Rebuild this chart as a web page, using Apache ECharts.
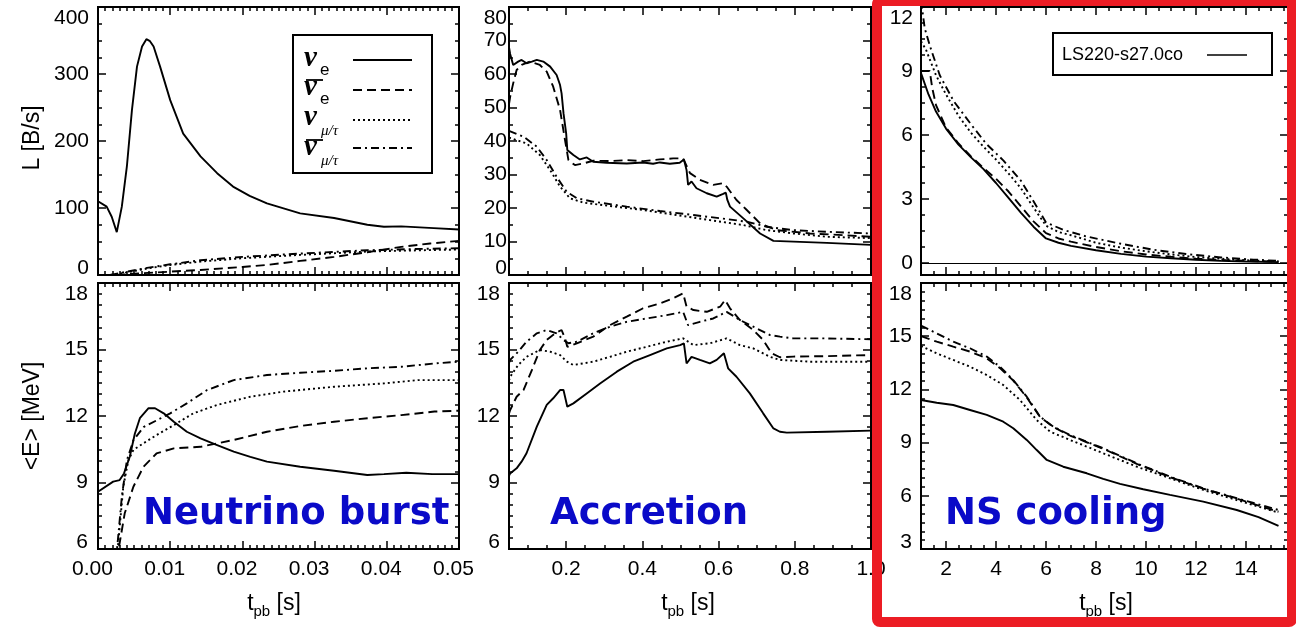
<!DOCTYPE html>
<html>
<head>
<meta charset="utf-8">
<script src="https://cdn.jsdelivr.net/npm/echarts@6/dist/echarts.min.js"></script>
<style>
  html, body { margin: 0; padding: 0; background: #fff; }
  #chart { width: 1296px; height: 630px; }
</style>
</head>
<body>
<div id="chart"></div>
<script>
// ---------------- data: [t_pb, value] ----------------
// Neutrino burst: luminosity L [B/s]
const burstLumNuE = [[0,110],[0.0012,102],[0.0019,87],[0.0026,64],[0.0033,102],[0.004,162],[0.0047,246],[0.0054,311],[0.0061,341],[0.0067,352],[0.0072,349],[0.0077,341],[0.0086,311],[0.01,261],[0.0118,211],[0.0142,177],[0.0165,152],[0.0187,132],[0.021,118],[0.0234,107],[0.028,92],[0.0327,85],[0.0373,75],[0.0396,72],[0.042,72.5],[0.0465,70],[0.05,68]];
const burstLumNuEBar = [[0.0025,0],[0.005,2],[0.01,5],[0.0142,7.5],[0.02,12],[0.0234,15],[0.028,21],[0.0327,27],[0.0373,34],[0.042,42],[0.046,47],[0.05,51]];
const burstLumNuX = [[0.0017,0],[0.004,4],[0.007,10],[0.01,15],[0.0142,20],[0.02,25],[0.028,30],[0.0373,35],[0.045,37],[0.05,38]];
const burstLumNuXBar = [[0.0017,0],[0.004,5],[0.007,11],[0.01,16],[0.0142,22],[0.02,27],[0.028,32],[0.0373,37],[0.045,39],[0.05,40]];
// Neutrino burst: mean energy <E> [MeV]
const burstEnNuE = [[0,8.58],[0.0021,9.04],[0.003,9.11],[0.0036,9.41],[0.0044,10.16],[0.0051,11.2],[0.0058,11.9],[0.007,12.35],[0.0079,12.35],[0.0091,12.12],[0.0105,11.74],[0.0123,11.29],[0.0142,10.99],[0.0165,10.69],[0.0188,10.39],[0.0211,10.16],[0.0234,9.94],[0.028,9.71],[0.0327,9.53],[0.0373,9.34],[0.0396,9.38],[0.0427,9.44],[0.0463,9.38],[0.05,9.38]];
const burstEnNuEBar = [[0.0026,5.5],[0.0037,7.61],[0.0049,8.81],[0.0063,9.71],[0.0081,10.31],[0.0105,10.54],[0.0142,10.61],[0.0188,10.92],[0.0234,11.29],[0.028,11.55],[0.0327,11.74],[0.0373,11.9],[0.042,12.04],[0.0466,12.2],[0.05,12.24]];
const burstEnNuX = [[0.0026,5.5],[0.0035,8.81],[0.0042,10.0],[0.0049,10.47],[0.0063,10.77],[0.0081,11.14],[0.0105,11.59],[0.0132,12.12],[0.0165,12.5],[0.0211,12.87],[0.0257,13.1],[0.0327,13.32],[0.0396,13.47],[0.0443,13.62],[0.05,13.62]];
const burstEnNuXBar = [[0.0025,5.5],[0.0033,8.36],[0.004,10.0],[0.0049,10.9],[0.0063,11.5],[0.0081,11.8],[0.01,12.12],[0.0123,12.57],[0.0151,13.17],[0.0188,13.62],[0.0234,13.85],[0.028,13.95],[0.0327,14.04],[0.0373,14.15],[0.042,14.22],[0.0466,14.37],[0.05,14.45]];

// Accretion: luminosity L [B/s]
const accrLumNuE = [[0.05,68],[0.053,66],[0.061,62.7],[0.074,63.7],[0.083,64.2],[0.096,63.2],[0.11,63.7],[0.123,64.2],[0.14,63.7],[0.158,62.2],[0.175,59.7],[0.184,56.7],[0.188,54.2],[0.193,48.3],[0.2,42.3],[0.203,37.3],[0.219,35.8],[0.236,34.5],[0.254,35.1],[0.271,33.8],[0.306,33.5],[0.359,33.3],[0.402,33.6],[0.428,33.2],[0.446,33.6],[0.472,33.2],[0.498,33.5],[0.509,34.5],[0.516,31.3],[0.52,26.9],[0.529,27.9],[0.542,25.9],[0.569,24.4],[0.595,23.4],[0.612,24.2],[0.619,24.6],[0.623,22.4],[0.63,20.4],[0.665,16.9],[0.709,12.4],[0.744,10.2],[0.884,9.6],[1.0,9.0]];
const accrLumNuEBar = [[0.05,51],[0.053,53.2],[0.061,57.2],[0.07,61.2],[0.083,62.7],[0.105,63.7],[0.131,62.7],[0.149,60.7],[0.166,56.2],[0.184,49.3],[0.197,40.3],[0.206,34.3],[0.223,32.8],[0.245,33.3],[0.271,34.1],[0.315,34.0],[0.359,34.3],[0.402,34.0],[0.446,34.5],[0.481,34.8],[0.507,34.8],[0.525,30.4],[0.551,28.4],[0.586,26.9],[0.612,27.4],[0.621,26.4],[0.647,22.4],[0.674,19.4],[0.709,15.4],[0.752,13.4],[0.84,12.4],[0.927,11.9],[1.0,11.4]];
const accrLumNuX = [[0.05,41],[0.053,40.8],[0.096,39.3],[0.131,35.8],[0.158,31.3],[0.184,26.4],[0.21,22.9],[0.245,21.6],[0.315,20.6],[0.402,19.4],[0.49,17.9],[0.577,16.4],[0.665,14.9],[0.726,13.4],[0.796,12.4],[0.884,11.4],[1.0,11.0]];
const accrLumNuXBar = [[0.05,43],[0.053,42.8],[0.088,41.3],[0.123,38.3],[0.149,34.3],[0.175,29.3],[0.201,24.9],[0.228,22.9],[0.271,21.9],[0.359,20.4],[0.446,19.1],[0.534,17.9],[0.621,16.7],[0.674,15.9],[0.726,14.4],[0.796,13.4],[0.884,12.9],[1.0,12.4]];
// Accretion: mean energy <E> [MeV]
const accrEnNuE = [[0.05,9.3],[0.053,9.41],[0.07,9.64],[0.083,9.94],[0.096,10.32],[0.123,11.52],[0.149,12.5],[0.166,12.8],[0.184,13.17],[0.193,13.17],[0.203,12.42],[0.219,12.57],[0.254,13.02],[0.289,13.47],[0.333,14.0],[0.376,14.45],[0.42,14.75],[0.464,15.05],[0.499,15.2],[0.509,15.28],[0.516,14.37],[0.529,14.67],[0.551,14.53],[0.577,14.37],[0.595,14.53],[0.614,14.83],[0.625,14.15],[0.647,13.77],[0.682,13.02],[0.717,12.12],[0.744,11.44],[0.761,11.29],[0.779,11.25],[0.884,11.29],[1.0,11.34]];
const accrEnNuEBar = [[0.05,12.1],[0.053,12.27],[0.07,12.87],[0.088,13.17],[0.11,14.07],[0.131,14.98],[0.149,15.43],[0.171,15.73],[0.188,15.88],[0.197,15.5],[0.203,15.12],[0.228,15.28],[0.271,15.58],[0.315,16.1],[0.359,16.48],[0.402,16.86],[0.446,17.08],[0.481,17.31],[0.507,17.53],[0.516,16.93],[0.534,16.78],[0.569,16.7],[0.604,16.93],[0.617,17.23],[0.63,16.86],[0.656,16.33],[0.691,15.88],[0.717,15.43],[0.739,14.83],[0.761,14.65],[0.796,14.68],[0.884,14.7],[1.0,14.75]];
const accrEnNuX = [[0.05,13.6],[0.053,13.77],[0.074,14.3],[0.096,14.67],[0.131,14.98],[0.158,14.9],[0.184,14.75],[0.202,14.45],[0.219,14.3],[0.271,14.45],[0.315,14.67],[0.359,14.9],[0.411,15.12],[0.464,15.35],[0.507,15.5],[0.534,15.2],[0.577,15.28],[0.621,15.5],[0.656,15.2],[0.691,15.05],[0.735,14.67],[0.761,14.53],[0.84,14.45],[1.0,14.45]];
const accrEnNuXBar = [[0.05,14.4],[0.053,14.53],[0.074,14.9],[0.096,15.35],[0.123,15.73],[0.149,15.88],[0.175,15.73],[0.193,15.43],[0.206,15.28],[0.228,15.35],[0.271,15.73],[0.315,16.03],[0.359,16.25],[0.411,16.4],[0.464,16.55],[0.507,16.7],[0.52,16.1],[0.551,16.25],[0.586,16.4],[0.621,16.7],[0.656,16.33],[0.691,16.03],[0.735,15.65],[0.761,15.58],[0.796,15.5],[0.884,15.5],[1.0,15.46]];

// NS cooling: luminosity L [B/s]
const coolLumNuE = [[1.0,8.9],[1.3,7.9],[1.6,7.1],[2.0,6.3],[2.5,5.55],[3.0,4.95],[3.5,4.4],[4.0,3.75],[4.5,3.05],[5.0,2.35],[5.5,1.7],[6.0,1.15],[6.5,0.95],[7.0,0.8],[8.0,0.6],[9.0,0.43],[10.0,0.3],[11.0,0.22],[12.0,0.15],[13.0,0.1],[14.0,0.07],[15.3,0.04]];
const coolLumNuEBar = [[1.0,9.0],[1.35,9.0],[1.45,8.2],[1.6,7.4],[2.0,6.35],[2.5,5.6],[3.0,5.0],[3.5,4.45],[4.0,3.95],[4.5,3.35],[5.0,2.65],[5.5,1.95],[6.0,1.4],[6.5,1.15],[7.0,1.0],[8.0,0.75],[9.0,0.55],[10.0,0.4],[11.0,0.29],[12.0,0.2],[13.0,0.14],[14.0,0.1],[15.3,0.06]];
const coolLumNuX = [[1.0,10.4],[1.2,10.0],[1.6,8.8],[2.0,7.9],[2.5,6.9],[3.0,6.1],[3.5,5.45],[4.0,4.85],[4.5,4.2],[5.0,3.5],[5.5,2.6],[6.0,1.75],[6.5,1.45],[7.0,1.3],[8.0,0.95],[9.0,0.72],[10.0,0.55],[11.0,0.4],[12.0,0.28],[13.0,0.2],[14.0,0.13],[15.3,0.08]];
const coolLumNuXBar = [[1.0,12.3],[1.15,11.0],[1.35,10.2],[1.75,8.8],[2.3,7.6],[3.0,6.5],[3.6,5.6],[4.3,4.8],[5.0,3.85],[5.6,2.7],[6.0,1.9],[6.7,1.55],[7.6,1.25],[9.0,0.9],[10.3,0.62],[11.6,0.42],[13.0,0.26],[14.3,0.16],[15.3,0.1]];
// NS cooling: mean energy <E> [MeV]
const coolEnNuE = [[1.0,11.4],[1.63,11.25],[2.29,11.12],[2.96,10.84],[3.63,10.56],[4.29,10.18],[4.69,9.81],[5.23,9.15],[5.63,8.58],[6.03,8.02],[6.69,7.64],[7.63,7.27],[8.29,6.95],[8.96,6.67],[9.89,6.37],[10.96,6.05],[12.29,5.67],[13.63,5.2],[14.5,4.8],[15.3,4.3]];
const coolEnNuEBar = [[1.0,15.0],[1.63,14.69],[2.29,14.41],[2.96,14.13],[3.63,13.75],[4.16,13.2],[4.69,12.5],[5.23,11.55],[5.76,10.45],[6.29,9.88],[6.96,9.4],[7.63,9.02],[8.29,8.65],[9.63,7.8],[10.96,7.05],[12.29,6.4],[13.63,5.84],[15.3,5.1]];
const coolEnNuX = [[1.0,14.45],[1.63,14.03],[2.29,13.66],[2.96,13.28],[3.63,12.81],[4.29,12.25],[4.96,11.4],[5.63,10.27],[6.16,9.62],[6.96,9.15],[8.29,8.4],[9.63,7.64],[10.96,6.99],[12.29,6.33],[13.63,5.76],[15.3,5.05]];
const coolEnNuXBar = [[1.0,15.6],[1.63,15.16],[2.29,14.69],[2.96,14.32],[3.63,13.85],[4.16,13.28],[4.69,12.53],[5.23,11.59],[5.76,10.46],[6.29,9.9],[6.96,9.43],[7.63,9.05],[8.29,8.68],[9.63,7.83],[10.96,7.08],[12.29,6.42],[13.63,5.86],[15.3,5.2]];

// tick labels
const burstTimeTicks = [0, 0.01, 0.02, 0.03, 0.04, 0.05];
const accrTimeTicks = [0.2, 0.4, 0.6, 0.8, 1.0];
const coolTimeTicks = [2, 4, 6, 8, 10, 12, 14];
const burstLumTicks = [0, 100, 200, 300, 400];
const accrLumTicks = [0, 10, 20, 30, 40, 50, 60, 70, 80];
const coolLumTicks = [0, 3, 6, 9, 12];
const energyTicks = [6, 9, 12, 15, 18];
const coolEnergyTicks = [3, 6, 9, 12, 15, 18];

const phaseNames = ['Neutrino burst', 'Accretion', 'NS cooling'];
const modelName = 'LS220-s27.0co';

// ---------------- styling ----------------
const FONT = '"Liberation Sans", Arial, Helvetica, sans-serif';
const LINE_TYPES = ['solid', [9, 5], [2, 3], [8, 4, 2, 4]];   // nu_e, anti-nu_e, nu_mu/tau, anti-nu_mu/tau

const COLS = [
  { left: 98, width: 361 },
  { left: 509, width: 362 },
  { left: 921, width: 367 }
];
const ROWS = [
  { top: 7, height: 268 },
  { top: 283, height: 266 }
];

const xSpecs = [
  { min: 0, max: 0.05, major: 0.01, minorN: 10, labels: burstTimeTicks, fmt: v => v.toFixed(2), pad: [0, 11, 0, 0] },
  { min: 0.05, max: 1.0, major: 0.2, minorN: 4, labels: accrTimeTicks, fmt: v => v.toFixed(1), pad: 0 },
  { min: 1, max: 15.68, major: 2, minorN: 4, labels: coolTimeTicks, fmt: v => String(v), pad: 0 }
];

const panels = [
  { row: 0, col: 0, y: { min: 0, max: 400, major: 100, minorN: 4, labels: burstLumTicks, margin: 9 },
    data: [burstLumNuE, burstLumNuEBar, burstLumNuX, burstLumNuXBar] },
  { row: 0, col: 1, y: { min: 0, max: 80, major: 10, minorN: 2, labels: accrLumTicks, margin: 2 },
    data: [accrLumNuE, accrLumNuEBar, accrLumNuX, accrLumNuXBar] },
  { row: 0, col: 2, y: { min: -0.5625, max: 12, major: 3, minorN: 4, labels: coolLumTicks, margin: 8 },
    data: [coolLumNuE, coolLumNuEBar, coolLumNuX, coolLumNuXBar], zeroLine: true },
  { row: 1, col: 0, y: { min: 6, max: 18, major: 3, minorN: 6, labels: energyTicks, margin: 10 },
    data: [burstEnNuE, burstEnNuEBar, burstEnNuX, burstEnNuXBar] },
  { row: 1, col: 1, y: { min: 6, max: 18, major: 3, minorN: 6, labels: energyTicks, margin: 9 },
    data: [accrEnNuE, accrEnNuEBar, accrEnNuX, accrEnNuXBar] },
  { row: 1, col: 2, y: { min: 3, max: 18, major: 3, minorN: 6, labels: coolEnergyTicks, margin: 9 },
    data: [coolEnNuE, coolEnNuEBar, coolEnNuX, coolEnNuXBar] }
];

// tick positions between min and max on a step
function stepValues(min, max, step) {
  const out = [];
  const k0 = Math.ceil(min / step - 1e-9), k1 = Math.floor(max / step + 1e-9);
  for (let k = k0; k <= k1; k++) out.push(+(k * step).toFixed(8));
  return out;
}
function tickSets(spec) {
  const majors = stepValues(spec.min, spec.max, spec.major);
  const minors = stepValues(spec.min, spec.max, spec.major / spec.minorN)
    .filter(v => !majors.some(m => Math.abs(m - v) < 1e-9));
  return { majors, minors };
}

const tickLine = { color: '#000', width: 1.5 };
const labelBase = { color: '#000', fontSize: 21, fontFamily: FONT };

// four axes per side pair: labelled side (major + minor ticks) and mirrored side (major + minor ticks)
function axesFor(dim, gridIndex, spec, labelOpt) {
  const { majors, minors } = tickSets(spec);
  const base = {
    type: 'value', gridIndex, min: spec.min, max: spec.max,
    splitLine: { show: false }, axisLine: { show: false, onZero: false }
  };
  const sides = dim === 'x' ? ['bottom', 'top'] : ['left', 'right'];
  const mk = (pos, vals, len, label) => Object.assign({}, base, {
    position: pos,
    axisTick: { show: true, inside: true, length: len, customValues: vals, lineStyle: tickLine },
    axisLabel: label || { show: false }
  });
  return [
    mk(sides[0], majors, 8, labelOpt),
    mk(sides[0], minors, 4),
    mk(sides[1], majors, 8),
    mk(sides[1], minors, 4)
  ];
}

function yLabel(spec) {
  const near = (a, b) => Math.abs(a - b) < 1e-9;
  return {
    show: true, customValues: spec.labels, margin: spec.margin,
    formatter: v => {
      const t = String(Math.round(v));
      if (near(v, spec.min)) return '{lo|' + t + '}';
      if (near(v, spec.max)) return '{hi|' + t + '}';
      return '{n|' + t + '}';
    },
    rich: {
      n: Object.assign({}, labelBase),
      lo: Object.assign({ padding: [0, 0, 14, 0] }, labelBase),
      hi: Object.assign({ padding: [22, 0, 0, 0] }, labelBase)
    }
  };
}
function xLabel(spec) {
  return Object.assign({
    show: true, customValues: spec.labels, margin: 10, formatter: spec.fmt, padding: spec.pad
  }, labelBase);
}

const grids = [], xAxes = [], yAxes = [], series = [];
panels.forEach((p, g) => {
  const c = COLS[p.col], r = ROWS[p.row];
  grids.push({
    left: c.left, top: r.top, width: c.width, height: r.height,
    show: true, borderColor: '#000', borderWidth: 2, backgroundColor: 'transparent',
    containLabel: false, outerBoundsMode: 'none'
  });
  const xs = xSpecs[p.col];
  xAxes.push(...axesFor('x', g, xs, p.row === 1 ? xLabel(xs) : null));
  yAxes.push(...axesFor('y', g, p.y, yLabel(p.y)));
  p.data.forEach((d, k) => {
    const s = {
      type: 'line', xAxisIndex: 4 * g, yAxisIndex: 4 * g, data: d,
      showSymbol: false, symbol: 'none', smooth: false, silent: true,
      lineStyle: { color: '#000', width: 1.9, type: LINE_TYPES[k] },
      clip: true, animation: false, z: 3
    };
    if (p.zeroLine && k === 0) {
      s.markLine = {
        silent: true, symbol: ['none', 'none'], label: { show: false },
        lineStyle: { color: '#000', width: 1, type: 'solid' },
        data: [{ yAxis: 0 }], animation: false
      };
    }
    series.push(s);
  });
});

// ---------------- text and decorations ----------------
const measureCtx = document.createElement('canvas').getContext('2d');
function textWidth(str, font) { measureCtx.font = font; return measureCtx.measureText(str).width; }

function timeTitle(cx) {
  const fMain = '23px ' + FONT, fSub = '15px ' + FONT;
  const w1 = textWidth('t', fMain), w2 = textWidth('pb', fSub), w3 = textWidth(' [s]', fMain);
  let x = cx - (w1 + w2 + w3) / 2;
  const out = [];
  out.push({ type: 'text', x, y: 604, style: { text: 't', font: fMain, fill: '#000', textVerticalAlign: 'middle' } });
  x += w1;
  out.push({ type: 'text', x, y: 612, style: { text: 'pb', font: fSub, fill: '#000', textVerticalAlign: 'middle' } });
  x += w2;
  out.push({ type: 'text', x, y: 604, style: { text: ' [s]', font: fMain, fill: '#000', textVerticalAlign: 'middle' } });
  return out;
}

const graphics = [];
// axis titles
graphics.push({ type: 'text', x: 33, y: 138, rotation: Math.PI / 2,
  style: { text: 'L [B/s]', font: '23px ' + FONT, fill: '#000', textAlign: 'center', textVerticalAlign: 'middle' } });
graphics.push({ type: 'text', x: 33, y: 416, rotation: Math.PI / 2,
  style: { text: '<E> [MeV]', font: '23px ' + FONT, fill: '#000', textAlign: 'center', textVerticalAlign: 'middle' } });
[274, 688, 1106].forEach(cx => graphics.push(...timeTitle(cx)));

// phase names
[143, 550, 945].forEach((x, i) => graphics.push({
  type: 'text', x, y: 514, z: 50,
  style: { text: phaseNames[i], font: 'bold 37px "DejaVu Sans", sans-serif', fill: '#0a0ac8', textVerticalAlign: 'middle' }
}));

// flavour key
graphics.push({ type: 'rect', shape: { x: 293, y: 35, width: 139, height: 138 }, z: 40,
  style: { fill: '#fff', stroke: '#000', lineWidth: 2 } });
const keyRows = [68, 97, 127, 157];
const keyLineY = [60, 90, 120, 148];
const keySubs = ['e', 'e', 'μ/τ', 'μ/τ'];
keyRows.forEach((b, i) => {
  graphics.push({ type: 'text', x: 304, y: b - 9, z: 41,
    style: { text: 'ν', font: 'bold italic 29px "Liberation Serif", "DejaVu Serif", serif', fill: '#000', textVerticalAlign: 'middle' } });
  if (i % 2 === 1) {
    graphics.push({ type: 'line', z: 41, shape: { x1: 306, y1: b - 17, x2: 323, y2: b - 17 },
      style: { stroke: '#000', lineWidth: 1.8 } });
  }
  const isE = i < 2;
  graphics.push({ type: 'text', x: isE ? 320 : 321, y: b + (isE ? 2 : 4), z: 41,
    style: { text: keySubs[i],
      font: isE ? '17px ' + FONT : 'italic 15px "Liberation Serif", serif',
      fill: '#000', textVerticalAlign: 'middle' } });
  graphics.push({ type: 'line', z: 41, shape: { x1: 353, y1: keyLineY[i], x2: 412, y2: keyLineY[i] },
    style: { stroke: '#000', lineWidth: 2, lineDash: LINE_TYPES[i] === 'solid' ? null : LINE_TYPES[i] } });
});

// model key
graphics.push({ type: 'rect', shape: { x: 1053, y: 33, width: 219, height: 42 }, z: 40,
  style: { fill: '#fff', stroke: '#000', lineWidth: 2 } });
graphics.push({ type: 'text', x: 1062, y: 55, z: 41,
  style: { text: modelName, font: '18px ' + FONT, fill: '#000', textVerticalAlign: 'middle' } });
graphics.push({ type: 'line', z: 41, shape: { x1: 1207, y1: 55, x2: 1247, y2: 55 },
  style: { stroke: '#000', lineWidth: 1.5 } });

// highlight frame around the cooling column
graphics.push({ type: 'rect', z: 100, shape: { x: 877, y: 1, width: 415, height: 621, r: 3 },
  style: { fill: 'none', stroke: '#ec1c24', lineWidth: 10 } });

const chart = echarts.init(document.getElementById('chart'), null, { renderer: 'canvas' });
chart.setOption({
  animation: false,
  backgroundColor: '#fff',
  grid: grids,
  xAxis: xAxes,
  yAxis: yAxes,
  series: series,
  graphic: { elements: graphics }
});
</script>
</body>
</html>
